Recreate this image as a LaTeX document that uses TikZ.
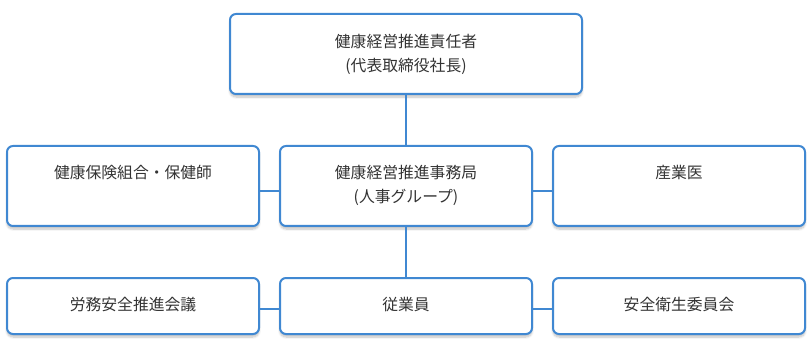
\documentclass[tikz,border=0pt]{standalone}
\usepackage{fontspec}
\setmainfont{Noto Sans CJK JP}
\usetikzlibrary{shadows.blur}
\definecolor{bline}{HTML}{4088D2}
\definecolor{txt}{HTML}{333333}
\begin{document}
\begin{tikzpicture}[x=1pt,y=-1pt,
  orgbox/.style={draw=bline,line width=2pt,rounded corners=6pt,fill=white,
    blur shadow={shadow xshift=0pt,shadow yshift=-3pt,shadow blur steps=6,shadow opacity=25}},
  lbl/.style={text=txt,font=\fontsize{15.8}{24}\selectfont,align=center,anchor=north},
  conn/.style={draw=bline,line width=2pt}]
\useasboundingbox (0,0) rectangle (812,350);
% boxes
\node[orgbox,minimum width=352pt,minimum height=80pt] (top) at (406,54) {};
\node[orgbox,minimum width=252pt,minimum height=80pt] (kenpo) at (133,186) {};
\node[orgbox,minimum width=252pt,minimum height=80pt] (jimu) at (406,186) {};
\node[orgbox,minimum width=252pt,minimum height=80pt] (sangyo) at (679,186) {};
\node[orgbox,minimum width=252pt,minimum height=56pt] (roumu) at (133,306) {};
\node[orgbox,minimum width=252pt,minimum height=56pt] (jugyo) at (406,306) {};
\node[orgbox,minimum width=252pt,minimum height=56pt] (anzen) at (679,306) {};
% texts
\node[lbl] (ttop) at (406,31) {健康経営推進責任者\\(代表取締役社長)};
\node[lbl] (tkenpo) at (133,162) {健康保険組合・保健師};
\node[lbl] (tjimu) at (406,162) {健康経営推進事務局\\(人事グループ)};
\node[lbl] (tsangyo) at (679,162) {産業医};
\node[lbl,anchor=center] (troumu) at (133,305) {労務安全推進会議};
\node[lbl,anchor=center] (tjugyo) at (406,305) {従業員};
\node[lbl,anchor=center] (tanzen) at (679,305) {安全衛生委員会};
% connectors
\draw[conn] (top.south) -- (jimu.north);
\draw[conn] (jimu.south) -- (jugyo.north);
\draw[conn] ([yshift=-5pt]kenpo.east) -- ([yshift=-5pt]jimu.west);
\draw[conn] ([yshift=-5pt]jimu.east) -- ([yshift=-5pt]sangyo.west);
\draw[conn] ([yshift=-3pt]roumu.east) -- ([yshift=-3pt]jugyo.west);
\draw[conn] ([yshift=-3pt]jugyo.east) -- ([yshift=-3pt]anzen.west);
\end{tikzpicture}
\end{document}
